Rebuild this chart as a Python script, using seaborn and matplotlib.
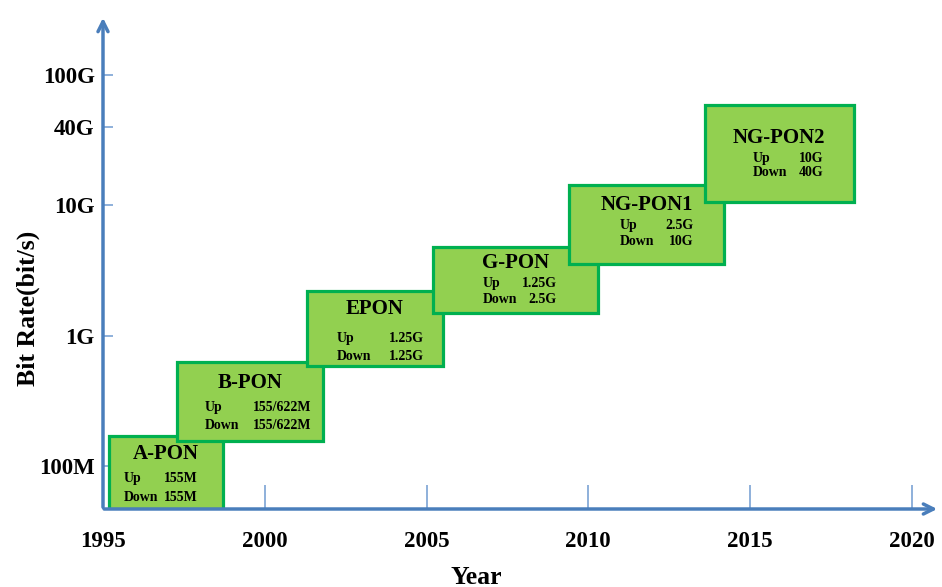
import matplotlib
matplotlib.use("Agg")
import numpy as np
import matplotlib.pyplot as plt
import seaborn as sns

# PON generations: time span (years) and bit-rate span (bit/s) of each box
names = ["A-PON", "B-PON", "EPON", "G-PON", "NG-PON1", "NG-PON2"]
year_start = [1995.2, 1997.3, 2001.3, 2005.2, 2009.4, 2013.6]
year_end = [1998.7, 2001.8, 2005.5, 2010.3, 2014.2, 2018.2]
rate_low = [4.7e7, 1.56e8, 5.85e8, 1.5e9, 3.55e9, 1.07e10]
rate_high = [1.7e8, 6.3e8, 2.2e9, 4.8e9, 1.44e10, 5.9e10]
up_rates = ["155M", "155/622M", "1.25G", "1.25G", "2.5G", "10G"]
down_rates = ["155M", "155/622M", "1.25G", "2.5G", "10G", "40G"]

x_ticks = [1995, 2000, 2005, 2010, 2015, 2020]
y_ticks = [1e8, 1e9, 1e10, 4e10, 1e11]
y_tick_labels = ["100M", "1G", "10G", "40G", "100G"]

# text layout inside each box: (title fy, up fy, down fy, label fx, value fx)
layout = [
    (0.75, 0.41, 0.16, 0.125, 0.78),
    (0.73, 0.42, 0.19, 0.19, 0.92),
    (0.76, 0.37, 0.13, 0.22, 0.86),
    (0.76, 0.44, 0.20, 0.30, 0.75),
    (0.75, 0.48, 0.28, 0.33, 0.80),
    (0.66, 0.45, 0.30, 0.32, 0.80),
]

sns.set_theme(style="white")
plt.rcParams["font.family"] = ["Liberation Serif", "DejaVu Serif"]
plt.rcParams["font.weight"] = "bold"
plt.rcParams["text.color"] = "black"
plt.rcParams["xtick.labelcolor"] = "black"
plt.rcParams["ytick.labelcolor"] = "black"

axis_col = "#4A7EBB"
tick_col = "#7BA3D4"
fill_col = "#92D050"
edge_col = "#00B050"

fig = plt.figure(figsize=(9.42, 5.87), dpi=100)
ax = fig.add_axes([103 / 942, 78 / 587, 837 / 942, 494 / 587])
ax.set_yscale("log")
ax.set_xlim(1995, 2020.87)
ax.set_ylim(4.68e7, 2.89e11)

widths = np.array(year_end) - np.array(year_start)
heights = np.array(rate_high) - np.array(rate_low)
ax.bar(year_start, heights, width=widths, bottom=rate_low, align="edge",
       color=fill_col, edgecolor=edge_col, linewidth=2.3, zorder=3)


def box_point(i, fx, fy):
    x = year_start[i] + fx * (year_end[i] - year_start[i])
    lo, hi = np.log10(rate_low[i]), np.log10(rate_high[i])
    return x, 10 ** (lo + fy * (hi - lo))


for i, name in enumerate(names):
    t_fy, u_fy, d_fy, l_fx, v_fx = layout[i]
    x, y = box_point(i, 0.5, t_fy)
    ax.text(x, y, name, ha="center", va="center", fontsize=15,
            fontweight="bold", color="black", zorder=4)
    for label, val, fy in [("Up", up_rates[i], u_fy), ("Down", down_rates[i], d_fy)]:
        lx, ly = box_point(i, l_fx, fy)
        vx, vy = box_point(i, v_fx, fy)
        ax.text(lx, ly, label, ha="left", va="center", fontsize=10,
                fontweight="bold", color="black", zorder=4)
        ax.text(vx, vy, val, ha="right", va="center", fontsize=10,
                fontweight="bold", color="black", zorder=4)

# axes drawn as arrows
for s in ax.spines.values():
    s.set_visible(False)
ax.annotate("", xy=(0, 1), xytext=(0, -0.002), xycoords="axes fraction",
            arrowprops=dict(arrowstyle="->", color=axis_col, lw=2.5,
                            mutation_scale=18))
ax.annotate("", xy=(1, 0), xytext=(-0.002, 0), xycoords="axes fraction",
            arrowprops=dict(arrowstyle="->", color=axis_col, lw=2.5,
                            mutation_scale=18))

ax.set_xticks(x_ticks)
ax.set_xticklabels([str(t) for t in x_ticks])
ax.set_yticks(y_ticks)
ax.set_yticklabels(y_tick_labels)
ax.minorticks_off()
ax.tick_params(axis="x", direction="in", length=17, width=1.2, color=tick_col,
               pad=16, labelsize=16.5, labelcolor="black", bottom=True)
ax.tick_params(axis="y", direction="in", length=7, width=1.2, color=tick_col,
               pad=6, labelsize=16.5, labelcolor="black", left=True)
ax.grid(False)

fig.text(28 / 942, 1 - 308 / 587, "Bit Rate(bit/s)", rotation=90,
         ha="center", va="center", fontsize=18.5, fontweight="bold")
fig.text(476 / 942, 1 - 577 / 587, "Year", ha="center", va="center",
         fontsize=18.5, fontweight="bold")

fig.savefig("out.png", dpi=100, facecolor="white")
